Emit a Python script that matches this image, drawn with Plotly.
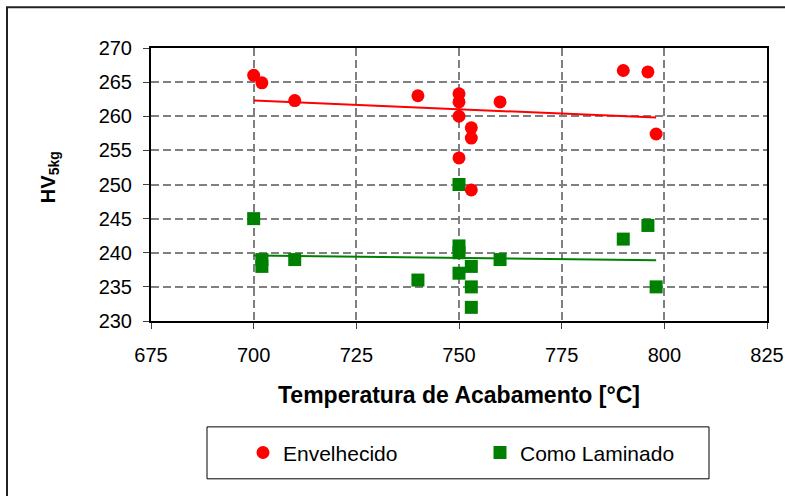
import plotly.graph_objects as go

# Envelhecido (aged) series
env_x = [700, 702, 710, 740, 750, 750, 750, 750, 753, 753, 753, 760, 790, 796, 798]
env_y = [266.0, 264.9, 262.3, 263.0, 263.3, 262.1, 260.0, 253.9, 258.3, 256.8, 249.2, 262.1, 266.7, 266.5, 257.4]

# Como Laminado (as rolled) series
lam_x = [700, 702, 702, 710, 740, 750, 750, 750, 750, 753, 753, 753, 760, 790, 796, 798]
lam_y = [245.0, 239.0, 238.0, 239.0, 236.0, 250.0, 241.0, 240.0, 237.0, 238.0, 235.0, 232.0, 239.0, 242.0, 244.0, 235.0]

# Linear trend lines (endpoints)
trend_x = [700, 798]
env_trend = [262.3, 259.8]
lam_trend = [239.6, 238.9]

x_ticks = [675, 700, 725, 750, 775, 800, 825]
y_ticks = [230, 235, 240, 245, 250, 255, 260, 265, 270]

FONT = "Liberation Sans, Arial, sans-serif"
RED = "#FF0000"
GREEN = "#008000"

fig = go.Figure()
fig.add_trace(go.Scatter(x=trend_x, y=lam_trend, mode="lines",
                         line=dict(color=GREEN, width=2), showlegend=False, hoverinfo="skip"))
fig.add_trace(go.Scatter(x=trend_x, y=env_trend, mode="lines",
                         line=dict(color=RED, width=2), showlegend=False, hoverinfo="skip"))
fig.add_trace(go.Scatter(x=lam_x, y=lam_y, mode="markers", name="Como Laminado",
                         marker=dict(symbol="square", size=13, color=GREEN, line=dict(width=0)),
                         legendrank=2))
fig.add_trace(go.Scatter(x=env_x, y=env_y, mode="markers", name="Envelhecido",
                         marker=dict(symbol="circle", size=13, color=RED, line=dict(width=0)),
                         legendrank=1))

axis_common = dict(
    showline=True, linecolor="black", linewidth=2, mirror=True,
    ticks="outside", ticklen=6, tickwidth=1, tickcolor="#404040",
    showgrid=True, gridcolor="#808080", gridwidth=1.5, griddash="8px,4px",
    zeroline=False, automargin=False,
    tickfont=dict(family=FONT, size=20, color="black"),
)

fig.update_xaxes(range=[675, 825], tickvals=x_ticks, ticktext=[str(v) for v in x_ticks],
                 ticklabelstandoff=9, **axis_common)
fig.update_yaxes(range=[230, 270], tickvals=y_ticks, ticktext=[str(v) for v in y_ticks],
                 ticklabelstandoff=7, **axis_common)

fig.add_annotation(text="Temperatura de Acabamento [°C]", xref="paper", yref="paper",
                   x=0.5, y=(321 - 395) / 273.3, xanchor="center", yanchor="middle",
                   showarrow=False, font=dict(family=FONT, size=23, color="black", weight="bold"))
fig.add_annotation(text="HV<sub>5kg</sub>", xref="paper", yref="paper",
                   x=(49 - 151) / 616, y=(321 - 177) / 273.3, xanchor="center", yanchor="middle",
                   textangle=-90, showarrow=False,
                   font=dict(family=FONT, size=20, color="black", weight="bold"))

# legend frame
fig.add_shape(type="rect", xref="paper", yref="paper",
              x0=(207 - 151) / 616, x1=(709 - 151) / 616,
              y0=(321 - 479) / 273.3, y1=(321 - 427) / 273.3,
              line=dict(color="black", width=1), fillcolor="rgba(0,0,0,0)")
# outer chart frame
fig.add_shape(type="rect", xref="paper", yref="paper",
              x0=(7 - 151) / 616, x1=(795 - 151) / 616,
              y0=(321 - 505) / 273.3, y1=(321 - 7) / 273.3,
              line=dict(color="#222222", width=2), fillcolor="rgba(0,0,0,0)")

fig.update_layout(
    width=785, height=496,
    margin=dict(l=151, r=18, t=48, b=175),
    paper_bgcolor="white", plot_bgcolor="white",
    font=dict(family=FONT, color="black"),
    showlegend=True,
    legend=dict(orientation="h", x=(243 - 151) / 616, y=(321 - 453) / 273.3,
                xanchor="left", yanchor="middle",
                font=dict(family=FONT, size=21, color="black"),
                bgcolor="rgba(0,0,0,0)", borderwidth=0,
                entrywidth=192, entrywidthmode="pixels"),
)

fig.write_html("out.html", config={"displayModeBar": False},
               post_script="document.body.style.margin='0';document.body.style.overflow='hidden';")
